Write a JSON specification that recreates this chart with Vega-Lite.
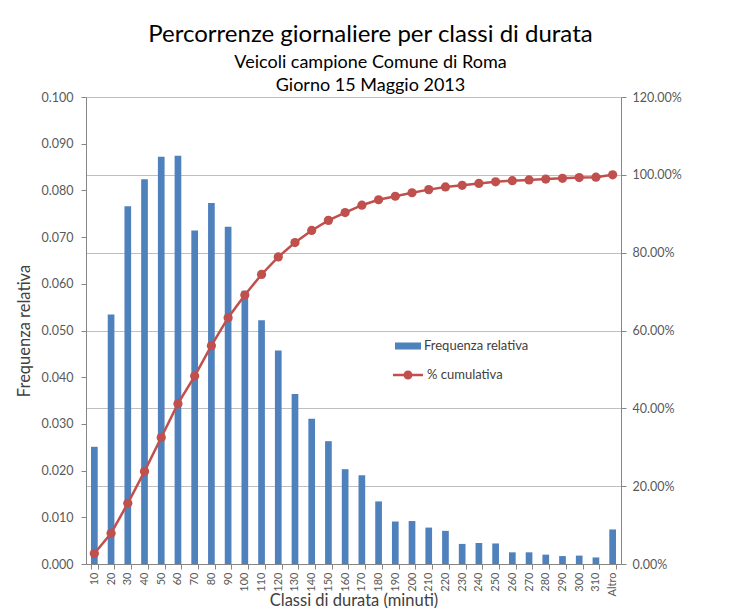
{
  "$schema": "https://vega.github.io/schema/vega-lite/v6.json",
  "width": 535,
  "height": 467,
  "autosize": {"type": "none"},
  "padding": {"left": 86, "top": 97, "right": 108, "bottom": 44},
  "background": "white",
  "config": {
    "font": "Lato",
    "view": {"stroke": null},
    "axis": {"labelFont": "Lato", "titleFont": "Lato", "labelColor": "#595959", "titleColor": "#404040", "domainColor": "#868686", "tickColor": "#868686", "labelFontSize": 12.5, "titleFontWeight": "normal", "titleFontSize": 16.5}
  },
  "title": {
    "text": "Percorrenze giornaliere per classi di durata",
    "subtitle": ["Veicoli campione Comune di Roma", "Giorno 15 Maggio 2013"],
    "fontSize": 24,
    "fontWeight": "normal",
    "font": "Lato",
    "subtitleFont": "Lato",
    "subtitleFontSize": 18,
    "subtitleColor": "#000000",
    "color": "#000000",
    "subtitleLineHeight": 23,
    "subtitlePadding": 7,
    "anchor": "middle",
    "dx": 17,
    "offset": -4
  },
  "data": {
    "values": [
      {"classe": "10", "freq": 0.0251, "cum": 0.027},
      {"classe": "20", "freq": 0.0534, "cum": 0.079},
      {"classe": "30", "freq": 0.0766, "cum": 0.156},
      {"classe": "40", "freq": 0.0824, "cum": 0.238},
      {"classe": "50", "freq": 0.0872, "cum": 0.325},
      {"classe": "60", "freq": 0.0874, "cum": 0.412},
      {"classe": "70", "freq": 0.0714, "cum": 0.483},
      {"classe": "80", "freq": 0.0773, "cum": 0.561},
      {"classe": "90", "freq": 0.0722, "cum": 0.633},
      {"classe": "100", "freq": 0.0585, "cum": 0.691},
      {"classe": "110", "freq": 0.0522, "cum": 0.744},
      {"classe": "120", "freq": 0.0457, "cum": 0.789},
      {"classe": "130", "freq": 0.0364, "cum": 0.826},
      {"classe": "140", "freq": 0.0311, "cum": 0.857},
      {"classe": "150", "freq": 0.0263, "cum": 0.883},
      {"classe": "160", "freq": 0.0203, "cum": 0.903},
      {"classe": "170", "freq": 0.0190, "cum": 0.922},
      {"classe": "180", "freq": 0.0134, "cum": 0.936},
      {"classe": "190", "freq": 0.0091, "cum": 0.945},
      {"classe": "200", "freq": 0.0092, "cum": 0.954},
      {"classe": "210", "freq": 0.0078, "cum": 0.962},
      {"classe": "220", "freq": 0.0071, "cum": 0.969},
      {"classe": "230", "freq": 0.0043, "cum": 0.973},
      {"classe": "240", "freq": 0.0045, "cum": 0.978},
      {"classe": "250", "freq": 0.0044, "cum": 0.982},
      {"classe": "260", "freq": 0.0025, "cum": 0.985},
      {"classe": "270", "freq": 0.0025, "cum": 0.987},
      {"classe": "280", "freq": 0.0020, "cum": 0.989},
      {"classe": "290", "freq": 0.0017, "cum": 0.991},
      {"classe": "300", "freq": 0.0018, "cum": 0.993},
      {"classe": "310", "freq": 0.0014, "cum": 0.994},
      {"classe": "Altro", "freq": 0.0074, "cum": 1.0}
    ]
  },
  "encoding": {
    "x": {
      "field": "classe",
      "type": "nominal",
      "sort": null,
      "scale": {"paddingInner": 0.6, "paddingOuter": 0.3},
      "axis": {"title": "Classi di durata (minuti)", "labelAngle": -90, "labelFontSize": 11, "tickBand": "extent", "tickSize": 5, "labelPadding": 3, "titleY": 41, "titleBaseline": "alphabetic"}
    }
  },
  "layer": [
    {
      "mark": {"type": "bar"},
      "encoding": {
        "y": {
          "field": "freq",
          "type": "quantitative",
          "scale": {"domain": [0, 0.1]},
          "axis": {"title": "Frequenza relativa", "orient": "left", "format": ".3f", "values": [0, 0.01, 0.02, 0.03, 0.04, 0.05, 0.06, 0.07, 0.08, 0.09, 0.1], "grid": false, "tickSize": 5, "labelPadding": 8, "titlePadding": 9}
        },
        "fill": {
          "datum": "Frequenza relativa",
          "scale": {"range": ["#4F81BD"]},
          "legend": {"title": null, "orient": "none", "legendX": 309, "legendY": 236, "padding": 0, "symbolType": "M-1,-0.27H1V0.27H-1Z", "symbolSize": 676, "labelFontSize": 13, "labelFont": "Lato", "labelColor": "#404040", "labelOffset": 3, "symbolStrokeWidth": 0}
        }
      }
    },
    {
      "mark": {"type": "line", "strokeWidth": 2.5},
      "encoding": {
        "y": {
          "field": "cum",
          "type": "quantitative",
          "scale": {"domain": [0, 1.2]},
          "axis": {"title": null, "orient": "right", "format": ".2%", "values": [0, 0.2, 0.4, 0.6, 0.8, 1.0, 1.2], "grid": true, "gridColor": "#BFBFBF", "tickSize": 5, "labelPadding": 6}
        },
        "stroke": {
          "datum": "% cumulativa",
          "scale": {"range": ["#C0504D"]},
          "legend": {"title": null, "orient": "none", "legendX": 307, "legendY": 263, "padding": 0, "symbolType": "M-1,-0.08H1V0.08H-1Z M0.3,0A0.3,0.3 0 1,1 -0.3,0A0.3,0.3 0 1,1 0.3,0Z", "symbolSize": 900, "symbolFillColor": "#C0504D", "symbolStrokeWidth": 0, "labelFontSize": 13, "labelFont": "Lato", "labelColor": "#404040", "labelOffset": 4}
        }
      }
    },
    {
      "mark": {"type": "point", "filled": true, "size": 85, "color": "#C0504D", "opacity": 1},
      "encoding": {
        "y": {"field": "cum", "type": "quantitative", "scale": {"domain": [0, 1.2]}, "axis": null}
      }
    }
  ],
  "resolve": {"scale": {"y": "independent"}}
}
